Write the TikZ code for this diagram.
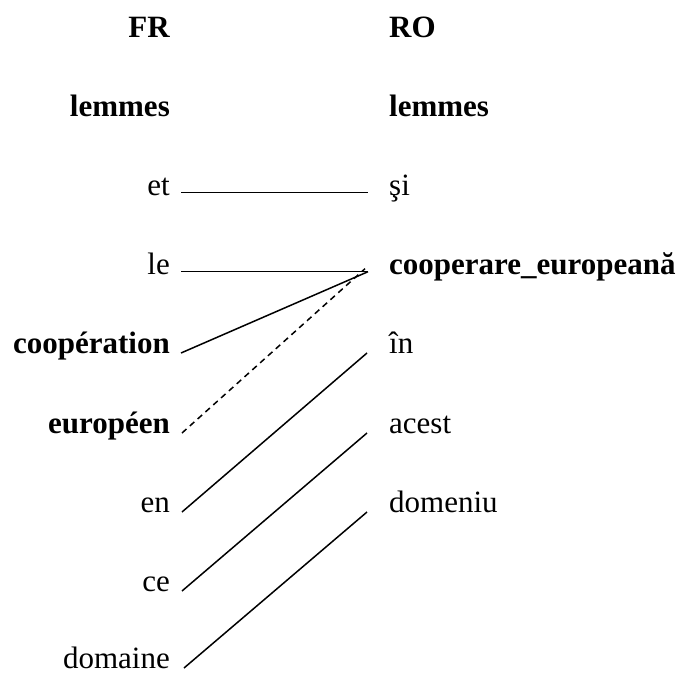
\documentclass[tikz,border=0pt]{standalone}
\usepackage{fontspec}
\setmainfont{Liberation Serif}

\tikzset{
  frword/.style={anchor=base east, inner sep=0pt, font=\fontsize{31}{36}\selectfont},
  roword/.style={anchor=base west, inner sep=0pt, font=\fontsize{31}{36}\selectfont},
  frbold/.style={frword, font=\fontsize{31}{36}\selectfont\bfseries},
  robold/.style={roword, font=\fontsize{31}{36}\selectfont\bfseries},
  link/.style={line width=1.5pt},
  weaklink/.style={link, dash pattern=on 6pt off 4.5pt}
}

\begin{document}
\begin{tikzpicture}[x=1pt,y=-1pt]

% Frame
\useasboundingbox (0,0) rectangle (682,672);

% Headers
\node[frbold] (fr) at (170,37) {FR};
\node[robold] (ro) at (389,37) {RO};
\node[frbold] (frlem) at (170,116) {lemmes};
\node[robold] (rolem) at (389,116) {lemmes};

% French lemmas
\foreach \nm/\y/\txt in {
et/195/et,
le/274/le,
en/512/en,
ce/591/ce,
dom/668/domaine
}{
\node[frword] (\nm) at (170,\y) {\txt};
}
\node[frbold] (coopfr) at (170,353) {coopération};
\node[frbold] (eur) at (170,433) {européen};

% Romanian lemmas
\node[roword] (si) at (389,195) {ş{}i};
\node[robold] (cooped) at (389,274) {cooperare\_europeană};
\foreach \nm/\y/\txt in {
in/353/în,
acest/433/acest,
domeniu/512/domeniu
}{
\node[roword] (\nm) at (389,\y) {\txt};
}

% Alignment links
\draw[link] ([xshift=11pt]et.mid east) -- ([xshift=-21pt]si.mid west);
\draw[link] ([xshift=11pt]le.mid east) -- ([xshift=-21pt]cooped.mid west);
\draw[link] ([xshift=11pt]coopfr.base east) -- ([xshift=-21pt]cooped.mid west);
\draw[weaklink] ([xshift=12pt]eur.base east) -- ([xshift=-24pt,yshift=3pt]cooped.mid west);
\draw[link] ([xshift=12pt]en.base east) -- ([xshift=-22pt]in.base west);
\draw[link] ([xshift=12pt]ce.base east) -- ([xshift=-22pt]acest.base west);
\draw[link] ([xshift=14pt]dom.base east) -- ([xshift=-22pt]domeniu.base west);

\end{tikzpicture}
\end{document}
